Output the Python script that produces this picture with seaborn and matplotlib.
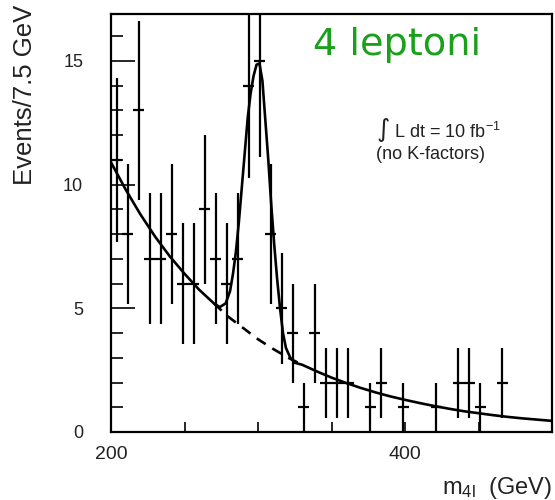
import numpy as np
import pandas as pd
import matplotlib
matplotlib.use("Agg")
import matplotlib.pyplot as plt
import seaborn as sns

# events per 7.5 GeV bin, 200 -> 500 GeV
bin_edges = np.arange(200, 500.1, 7.5)
counts = [11, 8, 13, 7, 7, 8, 6, 6, 9, 7, 6, 7, 14, 15, 8, 5, 4, 1, 4, 2,
          2, 2, 0, 1, 2, 0, 1, 0, 0, 1, 0, 2, 2, 1, 0, 2, 0, 0, 0, 0]

# background fit
bg_mass = [200, 210, 220, 230, 240, 250, 260, 270, 280, 290, 300, 310, 320,
           330, 340, 350, 360, 370, 380, 390, 400, 410, 420, 430, 440, 450,
           460, 470, 480, 490, 500]
bg_val = [10.9, 9.8, 8.8, 7.9, 7.1, 6.4, 5.75, 5.2, 4.65, 4.2, 3.75, 3.37, 3.02,
          2.72, 2.45, 2.2, 1.98, 1.78, 1.6, 1.44, 1.3, 1.17, 1.05, 0.94, 0.84,
          0.76, 0.68, 0.61, 0.55, 0.5, 0.45]

# signal + background around the peak
peak_mass = [274, 278, 281, 283, 285, 287, 289, 291, 293, 295, 297, 299, 301,
             303, 305, 307, 309, 311, 313, 315, 317, 319, 322, 325]
peak_val = [5.05, 5.2, 5.7, 6.4, 7.3, 8.5, 9.9, 11.3, 12.7, 13.7, 14.4, 14.85,
            14.9, 14.2, 12.6, 11.0, 9.2, 7.6, 6.2, 5.0, 4.0, 3.4, 3.0, 2.8]

centres = (bin_edges[:-1] + bin_edges[1:]) / 2
hist = pd.DataFrame({"m": centres, "n": counts})
hist = hist[hist.n > 0]

bg = pd.DataFrame({"m": bg_mass, "v": bg_val})
pk = pd.DataFrame({"m": peak_mass, "v": peak_val})
solid = pd.concat([bg[bg.m <= 270], pk, bg[bg.m >= 330]], ignore_index=True)
dashed = bg[(bg.m >= 270) & (bg.m <= 330)]

sns.set_style("ticks")
plt.rcParams["font.family"] = ["Liberation Sans", "DejaVu Sans"]

fig = plt.figure(figsize=(5.55, 5.0), dpi=100)
ax = fig.add_axes([0.2, 0.136, 0.7946, 0.836])

ax.errorbar(hist.m, hist.n, yerr=np.sqrt(hist.n), xerr=3.75, fmt="none",
            ecolor="k", elinewidth=1.6, capsize=0)
sns.lineplot(data=solid, x="m", y="v", ax=ax, color="k", linewidth=1.9,
             sort=False)
sns.lineplot(data=dashed, x="m", y="v", ax=ax, color="k", linewidth=1.9,
             linestyle=(0, (4, 3)))

ax.set_xlim(200, 500)
ax.set_ylim(0, 16.9)
ax.set_xticks([200, 250, 300, 350, 400, 450, 500],
              labels=["200", "", "", "", "400", "", ""])
ax.set_yticks([0, 5, 10, 15])
ax.set_yticks(range(0, 17), minor=True)
ax.tick_params(axis="x", direction="in", length=7, width=1.4, pad=10,
               labelsize=14, labelcolor="#222222")
ax.tick_params(axis="y", which="major", direction="in", length=17, width=1.4,
               pad=20, labelsize=13, labelcolor="#222222")
ax.tick_params(axis="y", which="minor", direction="in", length=8.5, width=1.4)
for s in ax.spines.values():
    s.set_linewidth(1.6)
    s.set_color("k")
ax.set_xlabel("")
ax.set_ylabel("")

fig.text(0.045, 0.99, "Events/7.5 GeV", rotation=90, ha="center", va="top",
         fontsize=18.5, color="#222222")
fig.text(0.995, 0.024, r"m$\mathregular{_{4l}}$  (GeV)", ha="right",
         va="center", fontsize=17, color="#222222")
ax.text(0.458, 0.97, "4 leptoni", transform=ax.transAxes, ha="left",
        va="top", fontsize=27.5, color="#1aa01a", family=["DejaVu Sans"])
ax.text(0.6, 0.722, "\u222b L dt = 10 fb$\\mathregular{^{-1}}$",
        transform=ax.transAxes, ha="left", va="center", fontsize=13,
        color="#222222")
ax.text(0.6, 0.663, "(no K-factors)", transform=ax.transAxes, ha="left",
        va="center", fontsize=13, color="#222222")

fig.savefig("out.png", dpi=100)
